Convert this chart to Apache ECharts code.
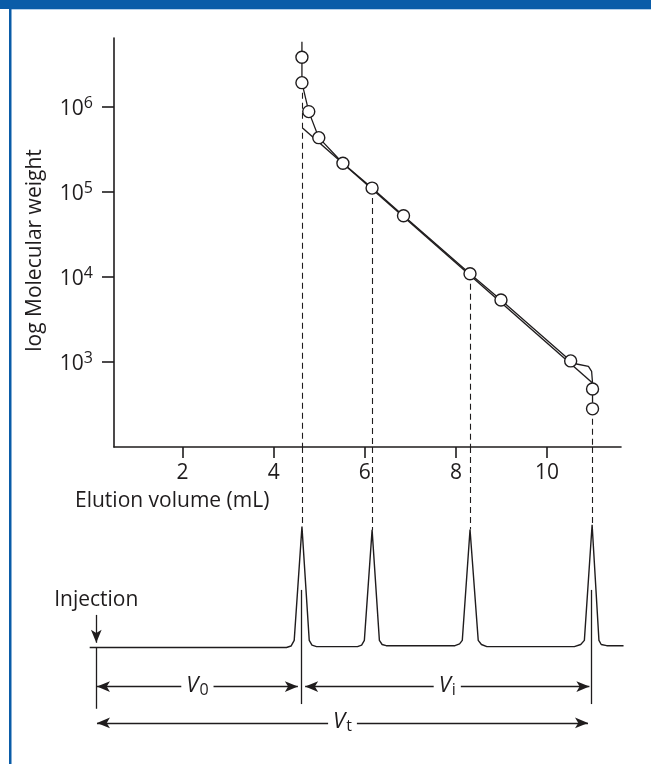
<!DOCTYPE html>
<html>
<head>
<meta charset="utf-8">
<title>Gel filtration calibration</title>
<script src="https://cdn.jsdelivr.net/npm/echarts@6/dist/echarts.min.js"></script>
<style>
  html, body { margin: 0; padding: 0; background: #fff; }
  #chart { width: 651px; height: 764px; }
</style>
</head>
<body>
<div id="chart"></div>
<script>
// calibration standards: elution volume (mL) against molecular weight
const elutionVolume = [4.62, 4.62, 4.77, 4.99, 5.52, 6.16, 6.85, 8.31, 8.99, 10.52, 11.0, 11.0]
const molWeight = [3.84e6, 1.93e6, 8.81e5, 4.35e5, 2.18e5, 1.11e5, 5.24e4, 1.09e4, 5.36e3, 1030, 482, 281]

// curve drawn through the standards
const curveVolume = [4.62, 4.62, 4.62, 4.77, 4.99, 5.52, 6.16, 6.85, 8.31, 8.99, 10.52, 10.65, 10.91, 10.98, 11.0, 11.0, 11.0]
const curveWeight = [5.85e6, 3.84e6, 1.93e6, 8.81e5, 4.35e5, 2.18e5, 1.11e5, 5.24e4, 1.09e4, 5.36e3, 1030, 947, 887, 775, 566, 482, 281]

// straight calibration line
const fitVolume = [4.64, 11.0]
const fitWeight = [5.62e5, 566]

// standards traced down to their peaks
const peakVolume = [4.62, 6.16, 8.31, 11.0]
const peakWeight = [1.93e6, 1.11e5, 1.09e4, 281]
const peakHeight = [1.025, 0.997, 1.0, 1.04]

// chromatogram (detector signal, baseline = 0)
const traceVolume = [-0.04, 4.28, 4.38, 4.45, 4.62, 4.78, 4.84, 4.94, 5.84, 5.93, 5.99, 6.16, 6.32, 6.38, 6.47,
  7.98, 8.08, 8.14, 8.31, 8.49, 8.56, 8.68, 10.60, 10.74, 10.82, 10.99, 11.14, 11.19, 11.31, 11.68]
const traceSignal = [0, 0, 0.012, 0.06, 1.025, 0.06, 0.02, 0.007, 0.007, 0.02, 0.06, 0.997, 0.06, 0.025, 0.015,
  0.015, 0.03, 0.06, 1.0, 0.06, 0.025, 0.007, 0.007, 0.025, 0.06, 1.04, 0.06, 0.025, 0.015, 0.015]

// volumes marked under the chromatogram
const injectVolume = 0.105
const voidVolume = 4.60
const totalVolume = 10.97

const xTicks = [2, 4, 6, 8, 10]
const yTicks = [1e3, 1e4, 1e5, 1e6]

const font = "'Open Sans', 'Noto Sans', sans-serif"
const fs = 21
const ink = '#1f1c1d'
const blue = '#0a5ca8'

const pair = (xs, ys) => xs.map((x, i) => [x, ys[i]])

const volLabel = (sub) => ({
  show: true,
  position: 'middle',
  distance: 0,
  verticalAlign: 'middle',
  formatter: '{v|V}{s|' + sub + '}',
  backgroundColor: '#fff',
  padding: [0, 5],
  rich: {
    v: { fontFamily: font, fontSize: 22, fontStyle: 'italic', lineHeight: 24, verticalAlign: 'top', color: ink },
    s: { fontFamily: font, fontSize: 16, lineHeight: 16, padding: [10, 0, 0, 1], verticalAlign: 'bottom', color: ink }
  }
})

const arrow = (x1, x2, y, sub) => [
  { coord: [x1, y], symbol: 'arrow', label: volLabel(sub) },
  { coord: [x2, y], symbol: 'arrow' }
]

const guide = (x, y1, y2) => [
  { coord: [x, y1], symbol: 'none', label: { show: false } },
  { coord: [x, y2], symbol: 'none' }
]

const chart = echarts.init(document.getElementById('chart'))

const option = {
  animation: false,
  backgroundColor: '#fff',
  textStyle: { fontFamily: font },
  graphic: [
    { type: 'rect', shape: { x: 0, y: 0, width: 651, height: 9 }, style: { fill: blue } },
    { type: 'rect', shape: { x: 11, y: 9, width: 640, height: 1 }, style: { fill: '#b3cfea' } },
    { type: 'rect', shape: { x: 9, y: 0, width: 2.5, height: 764 }, style: { fill: blue } },
    { type: 'text', left: 75, top: 491, style: { text: 'Elution volume (mL)', font: fs + 'px ' + font, fill: ink } }
  ],
  grid: [
    { left: 114, right: 30, top: 38, bottom: 317, outerBoundsMode: 'none' },
    { left: 89, right: 26, top: 447, bottom: 34, outerBoundsMode: 'none' }
  ],
  xAxis: [
    {
      gridIndex: 0, type: 'value', min: 0.494, max: 11.625,
      axisLine: { lineStyle: { color: ink, width: 1.6 } },
      axisTick: { customValues: xTicks, length: 11, lineStyle: { color: ink, width: 1.6 } },
      axisLabel: { customValues: xTicks, fontSize: fs, color: ink, margin: 16, fontFamily: font },
      splitLine: { show: false }
    },
    { gridIndex: 1, type: 'value', min: -0.055, max: 11.712, show: false, splitLine: { show: false } }
  ],
  yAxis: [
    {
      gridIndex: 0, type: 'log', logBase: 10, min: 100, max: 6.47e6,
      name: 'log Molecular weight', nameLocation: 'middle', nameGap: 68, nameMoveOverlap: false,
      nameTextStyle: { fontSize: fs, color: ink, fontFamily: font, padding: [0, 16, 0, 0] },
      axisLine: { show: true, lineStyle: { color: ink, width: 1.6 } },
      axisTick: { show: true, customValues: yTicks, length: 12, lineStyle: { color: ink, width: 1.6 } },
      axisLabel: {
        customValues: yTicks, margin: 21,
        formatter: (v) => '{b|10}{e|' + Math.round(Math.log10(v)) + '}',
        rich: {
          b: { fontFamily: font, fontSize: fs, lineHeight: 24, padding: [5, 0, 0, 0], color: ink },
          e: { fontFamily: font, fontSize: 16, lineHeight: 16, verticalAlign: 'top', color: ink }
        }
      },
      splitLine: { show: false }
    },
    { gridIndex: 1, type: 'value', min: -0.7, max: 1.7, show: false, splitLine: { show: false } }
  ],
  series: [
    {
      name: 'fit', type: 'line', xAxisIndex: 0, yAxisIndex: 0, silent: true,
      data: pair(fitVolume, fitWeight), showSymbol: false,
      lineStyle: { color: ink, width: 1.4 },
      markLine: {
        silent: true, symbol: 'none', label: { show: false },
        lineStyle: { color: ink, width: 1.1, type: [6, 4] },
        data: peakVolume.map((v, i) => [{ coord: [v, peakWeight[i]] }, { coord: [v, 100] }])
      }
    },
    {
      name: 'curve', type: 'line', xAxisIndex: 0, yAxisIndex: 0, silent: true,
      data: pair(curveVolume, curveWeight), showSymbol: false,
      lineStyle: { color: ink, width: 1.3 }
    },
    {
      name: 'standards', type: 'scatter', xAxisIndex: 0, yAxisIndex: 0, silent: true, z: 5,
      data: pair(elutionVolume, molWeight), symbol: 'circle', symbolSize: 12,
      itemStyle: { color: '#fff', opacity: 1, borderColor: ink, borderWidth: 1.4 }
    },
    {
      name: 'trace', type: 'line', xAxisIndex: 1, yAxisIndex: 1, silent: true,
      data: pair(traceVolume, traceSignal), showSymbol: false,
      lineStyle: { color: ink, width: 1.4 },
      markLine: {
        silent: true, symbol: 'none', label: { show: false },
        lineStyle: { color: ink, width: 1.1, type: [6, 4] },
        data: peakVolume.map((v, i) => [{ coord: [v, 1.7] }, { coord: [v, peakHeight[i]] }])
      }
    },
    {
      name: 'volumes', type: 'line', xAxisIndex: 1, yAxisIndex: 1, silent: true,
      data: [[injectVolume, 0]], showSymbol: false, lineStyle: { width: 0 },
      markLine: {
        silent: true, symbolSize: [8, 13],
        lineStyle: { color: ink, width: 1.3, type: 'solid' },
        data: [
          guide(injectVolume, 0, -0.52),
          guide(voidVolume, 0.488, -0.48),
          guide(totalVolume, 0.488, -0.48),
          arrow(injectVolume + 0.015, voidVolume - 0.07, -0.332, '0'),
          arrow(voidVolume + 0.09, totalVolume - 0.04, -0.332, 'i'),
          arrow(injectVolume + 0.015, totalVolume - 0.07, -0.64, 't'),
          [
            { coord: [injectVolume, 0.276], symbol: 'none',
              label: { show: true, position: 'start', distance: 4, formatter: 'Injection', fontSize: fs, color: ink, fontFamily: font } },
            { coord: [injectVolume, 0.04], symbol: 'arrow' }
          ]
        ]
      }
    }
  ]
}

chart.setOption(option)
</script>
</body>
</html>
